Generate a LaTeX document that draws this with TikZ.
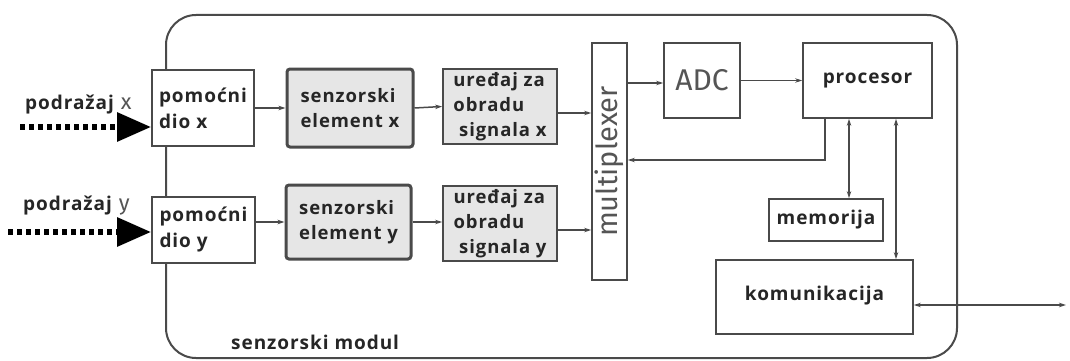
\documentclass[tikz,border=0pt]{standalone}
\usepackage{fontspec}
\setmainfont[LetterSpace=5]{Open Sans}
\newfontfamily\thinfont{Fira Sans}
\usetikzlibrary{arrows.meta}
\definecolor{ln}{HTML}{4A4A4A}
\definecolor{tx}{HTML}{262626}
\definecolor{lt}{HTML}{555555}
\definecolor{gf}{HTML}{E6E6E6}
\begin{document}
\begin{tikzpicture}[x=1pt,y=-1pt,
  box/.style={draw=ln, line width=1.8pt, fill=white, inner sep=0pt, align=left, text=tx,
    font=\fontsize{19}{26}\selectfont\bfseries},
  gbox/.style={box, fill=gf, font=\fontsize{18.5}{25}\selectfont\bfseries},
  sbox/.style={gbox, line width=3pt, rounded corners=3pt},
  arr/.style={draw=ln, line width=1.5pt, -{Stealth[length=7pt,width=4.5pt]}},
  darr/.style={draw=ln, line width=1.5pt, {Stealth[length=7pt,width=4.5pt]}-{Stealth[length=7pt,width=4.5pt]}},
  inarr/.style={draw=black, line width=6pt, dash pattern=on 5pt off 4pt, -{Triangle[length=34pt,width=28pt]}},
  lbl/.style={text=tx, font=\fontsize{19}{26}\selectfont\bfseries, inner sep=0pt}
]
\useasboundingbox (0,0) rectangle (1070,361);
\fill[white] (0,0) rectangle (1070,361);
% module frame
\draw[ln, line width=2pt, rounded corners=30pt] (166,15) rectangle (957,358);
\node[lbl, anchor=base west] (modlbl) at (231,349) {senzorski modul};

\node[box, minimum width=102pt, minimum height=76pt] (pomx) at (203,108) {pomoćni\\dio x};
\node[box, minimum width=103pt, minimum height=66pt] (pomy) at (203.5,230) {pomoćni\\dio y};
\node[sbox, minimum width=126pt, minimum height=78pt] (senx) at (350,108) {senzorski\\element x};
\node[sbox, minimum width=125pt, minimum height=74pt] (seny) at (348.5,222) {senzorski\\element y};
\node[gbox, minimum width=114pt, minimum height=75pt] (urx) at (500,106.5) {uređaj za\\obradu\\\ signala x};
\node[gbox, minimum width=114pt, minimum height=75pt] (ury) at (500,223.5) {uređaj za\\obradu\\\ signala y};
\node[box, minimum width=35pt, minimum height=237pt] (mux) at (609.5,161.5) {};
\node[rotate=90, text=lt, font=\thinfont\fontsize{29}{32}\selectfont, inner sep=0pt] (muxlbl) at (mux.center) {multiplexer};
\node[box, minimum width=76pt, minimum height=75pt, font=\thinfont\fontsize{30}{34}\selectfont, text=lt] (adc) at (702,80.5) {ADC};
\node[box, minimum width=129pt, minimum height=75pt] (proc) at (867.5,80.5) {procesor};
\node[box, minimum width=114pt, minimum height=42pt] (mem) at (826,220) {memorija};
\node[box, minimum width=197pt, minimum height=74pt] (kom) at (814.5,297) {\raisebox{7pt}{komunikacija}};

% stimulus labels
\node[lbl, anchor=base west] (px) at (25,109) {podražaj\hspace{7pt}\textcolor{lt}{\thinfont\mdseries\fontsize{22}{24}\selectfont x}};
\node[lbl, anchor=base west] (py) at (23,210) {podražaj\hspace{7pt}\textcolor{lt}{\thinfont\mdseries\fontsize{22}{24}\selectfont y}};
\coordinate (inx) at (20,127);
\coordinate (iny) at (8,232);
\draw[inarr] (inx) -- (inx -| pomx.west);
\draw[inarr] (iny) -- (iny -| pomy.west);

% signal chain
\draw[arr] (pomx.east) -- (senx.west);
\draw[arr] (pomy.east |- seny.west) -- (seny.west);
\draw[arr] (senx.east) -- (urx.east -| urx.west);
\draw[arr] (seny.east) -- (seny.east -| ury.west);
\coordinate (mx) at (0,113);
\coordinate (my) at (0,230);
\draw[arr] (urx.east |- mx) -- (mux.west |- mx);
\draw[arr] (ury.east |- my) -- (mux.west |- my);
\coordinate (ma) at (0,83);
\draw[arr] (mux.east |- ma) -- (adc.west |- ma);
\draw[arr] (adc.east) -- (proc.west);
\coordinate (fb) at (825,160);
\draw[arr] (fb |- proc.south) |- (mux.east |- fb);
\draw[darr] ([xshift=23pt]mem.north) -- ([xshift=-18.5pt]proc.south);
\draw[darr] ([xshift=81.5pt]kom.north) -- ([xshift=28.5pt]proc.south);
\coordinate (ext) at (1066,305);
\draw[darr] (kom.east |- ext) -- (ext);
\end{tikzpicture}
\end{document}
